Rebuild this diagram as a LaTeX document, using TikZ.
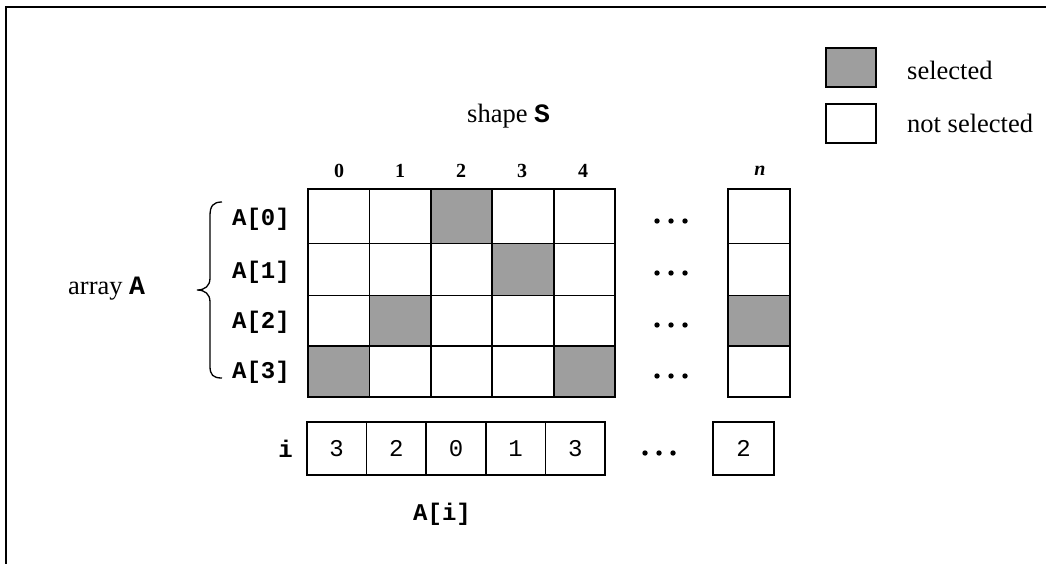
\documentclass[tikz,border=0pt]{standalone}
\usepackage{fontspec}
\setmainfont{Liberation Serif}
\newfontfamily\codefont{Liberation Mono}
\newcommand\bigsz{\fontsize{26.5}{30}\selectfont}
\newcommand\codesz{\fontsize{24}{28}\selectfont}
\newcommand\hdsz{\fontsize{20}{24}\selectfont}
\newcommand\cb[1]{{\codefont\bfseries #1}}
\begin{document}
\begin{tikzpicture}[x=1pt,y=-1pt,
  cell/.style={draw=black, line width=1.8pt, inner sep=0pt, outer sep=0pt,
    minimum width=61.4pt, anchor=north west},
  selcell/.style={cell, fill=black!38},
  lbl/.style={inner sep=0pt, font=\bigsz},
  code/.style={inner sep=0pt, font=\codesz\codefont\bfseries},
  hd/.style={inner sep=0pt, font=\hdsz\bfseries},
  dotc/.style={inner sep=0pt, minimum size=0pt},
  icell/.style={draw=black, line width=1.8pt, inner sep=0pt, outer sep=0pt,
    minimum width=59.7pt, minimum height=53.3pt, anchor=north west, font=\codesz\codefont},
  legbox/.style={draw=black, line width=1.8pt, inner sep=0pt, outer sep=0pt,
    minimum width=50pt, minimum height=39pt, anchor=north west}
]
\useasboundingbox (0,0) rectangle (1046,564);
% frame (top and left edges)
\draw[line width=2pt] (6,564) -- (6,7) -- (1046,7);

% legend
\node[legbox, fill=black!38] (legsel) at (826,48) {};
\node[legbox] (legnot) at (826,104) {};
\node[lbl, anchor=base west] (legselt) at (907,80) {selected};
\node[lbl, anchor=base west] (legnott) at (907,133) {not selected};

% title
\node[lbl, anchor=base west] (shape) at (467,123) {shape \cb{S}};

% column headers
\foreach \c/\x in {0/339,1/400,2/461,3/522,4/583} {
  \node[hd] (h\c) at (\x,171) {\c};
}
\node[hd, font=\hdsz\bfseries\itshape] (hn) at (760,171) {n};

% grid
\foreach \c/\s in {0/cell,1/cell,2/selcell,3/cell,4/cell} {
  \node[\s, minimum height=54.5pt] (g0\c) at ({308+61.4*\c},189) {};
}
\foreach \c/\s in {0/cell,1/cell,2/cell,3/selcell,4/cell} {
  \node[\s, minimum height=52pt] (g1\c) at ({308+61.4*\c},243.5) {};
}
\foreach \c/\s in {0/cell,1/selcell,2/cell,3/cell,4/cell} {
  \node[\s, minimum height=50.5pt] (g2\c) at ({308+61.4*\c},295.5) {};
}
\foreach \c/\s in {0/selcell,1/cell,2/cell,3/cell,4/selcell} {
  \node[\s, minimum height=51pt] (g3\c) at ({308+61.4*\c},346) {};
}
% column n
\node[cell, minimum width=62.3pt, minimum height=54.5pt] (gn0) at (727.7,189) {};
\node[cell, minimum width=62.3pt, minimum height=52pt] (gn1) at (727.7,243.5) {};
\node[selcell, minimum width=62.3pt, minimum height=50.5pt] (gn2) at (727.7,295.5) {};
\node[cell, minimum width=62.3pt, minimum height=51pt] (gn3) at (727.7,346) {};

% dots in grid rows
\foreach \r/\y in {0/221,1/273,2/325,3/376} {
  \node[dotc] (d\r) at (671,\y) {};
  \foreach \dx in {-14,0,14} {
    \fill ([xshift=\dx pt]d\r.center) circle (2.7pt);
  }
}

% row labels
\foreach \r/\y in {0/219,1/272,2/322,3/372} {
  \node[code, anchor=east] (a\r) at (290,\y) {A[\r]};
}

% brace
\draw[line width=1.3pt] (222,202) .. controls (213,202) and (210,206) .. (210,216)
  -- (210,278) .. controls (210,286) and (205,290) .. (197,290)
  .. controls (205,290) and (210,294) .. (210,302)
  -- (210,366) .. controls (210,375) and (213,378) .. (222,378);
\node[lbl, anchor=base west] (arr) at (68,294) {array \cb{A}};

% index row
\node[code, anchor=base east] (ilbl) at (293,457) {i};
\foreach \c/\v in {0/3,1/2,2/0,3/1,4/3} {
  \node[icell] (i\c) at ({306.7+59.7*\c},421.7) {\v};
}
\node[icell, minimum width=60.7pt] (in) at (713.3,421.7) {2};
\node[dotc] (di) at (659,453) {};
\foreach \dx in {-14,0,14} {
  \fill ([xshift=\dx pt]di.center) circle (2.7pt);
}

\node[code, anchor=base west] (ai) at (413,520) {A[i]};
\end{tikzpicture}
\end{document}
